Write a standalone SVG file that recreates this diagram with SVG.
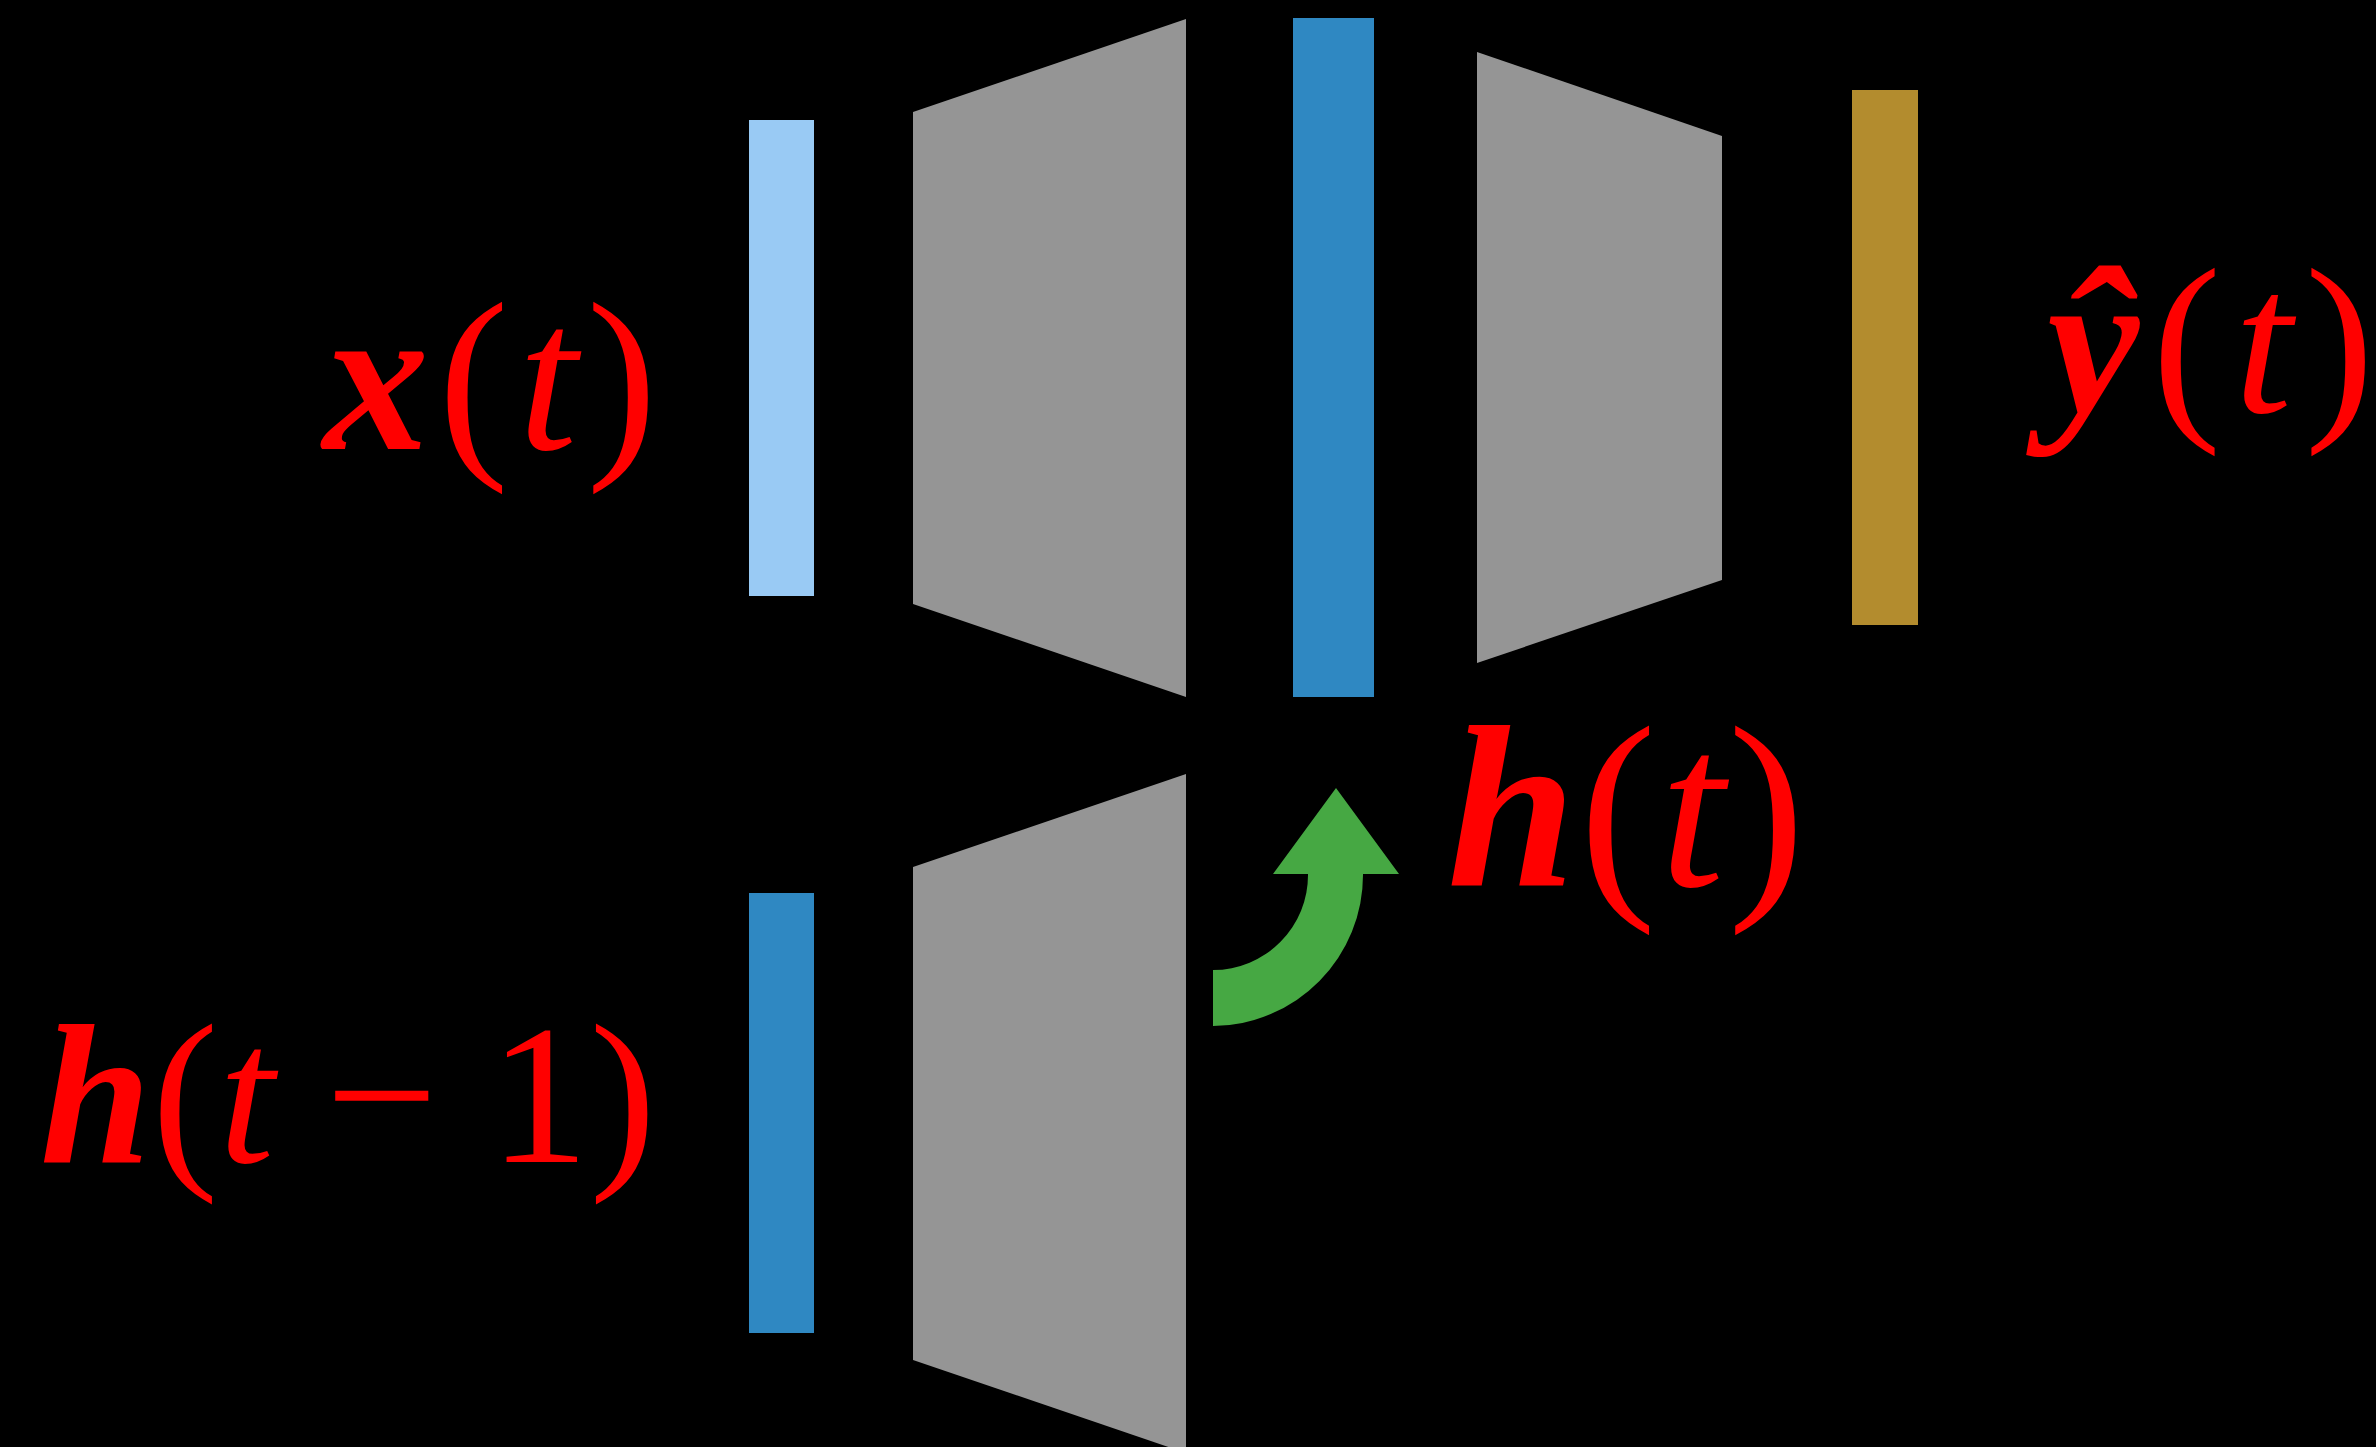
<svg xmlns="http://www.w3.org/2000/svg" width="2376" height="1447" viewBox="0 0 2376 1447">
<style>
.lbl{font-family:"Liberation Serif","Times New Roman",serif;fill:#ff0000;}
.v{font-weight:bold;font-style:italic;}
.it{font-style:italic;}
.up{font-style:normal;font-weight:normal;}
.gray{fill:#959595;}
</style>
<rect x="0" y="0" width="2376" height="1447" fill="#000000"/>
<g id="x-layer"><rect x="749" y="120" width="65" height="476" fill="#99CAF4"/></g>
<g id="enc-top"><polygon class="gray" points="913,112 1186,19 1186,697 913,604"/></g>
<g id="h-layer"><rect x="1293" y="18" width="81" height="679" fill="#2F88C2"/></g>
<g id="dec"><polygon class="gray" points="1477,52 1722,136 1722,580 1477,663"/></g>
<g id="y-layer"><rect x="1852" y="90" width="66" height="535" fill="#B38C2E"/></g>
<g id="hprev-layer"><rect x="749" y="893" width="65" height="440" fill="#2F88C2"/></g>
<g id="enc-bottom"><polygon class="gray" points="913,867 1186,774 1186,1453 913,1360"/></g>
<g id="connectors">
<path d="M1213,970 A95,95 0 0 0 1308,874 L1273,874 L1336,788 L1399,874 L1363,874 A151,151 0 0 1 1213,1026 Z" fill="#46A843"/>
</g>
<g id="labels">
<text class="lbl" x="323" y="449" font-size="212" textLength="334"><tspan class="v">x</tspan><tspan class="up">(</tspan><tspan class="it">t</tspan><tspan class="up">)</tspan></text>
<text class="lbl" x="2047" y="412" font-size="208" textLength="327"><tspan class="v">ŷ</tspan><tspan class="up">(</tspan><tspan class="it">t</tspan><tspan class="up">)</tspan></text>
<text class="lbl" x="40" y="1162" font-size="200" textLength="616"><tspan class="v">h</tspan><tspan class="up">(</tspan><tspan class="it">t</tspan><tspan class="up"> − 1)</tspan></text>
<text class="lbl" x="1447" y="886" font-size="232" textLength="358"><tspan class="v">h</tspan><tspan class="up">(</tspan><tspan class="it">t</tspan><tspan class="up">)</tspan></text>
</g>
</svg>
